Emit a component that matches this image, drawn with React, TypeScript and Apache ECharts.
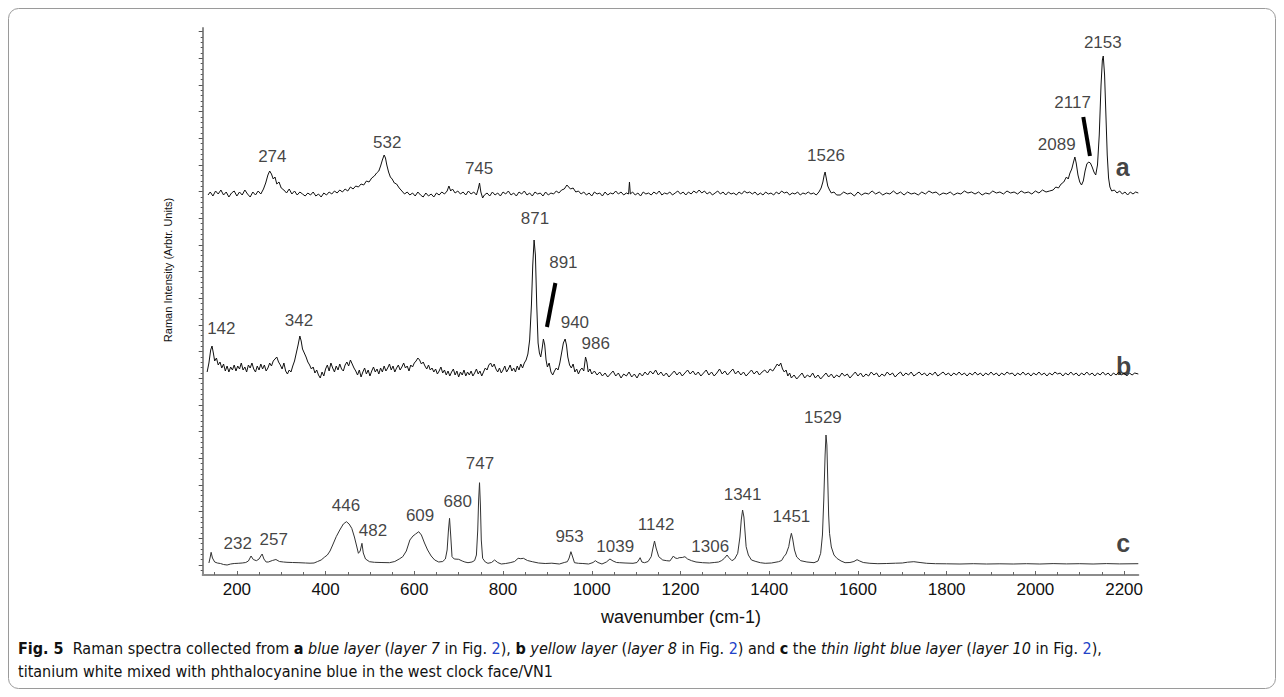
import React, { useEffect, useRef } from "react";
import * as echarts from "echarts";

const FONT = "'Liberation Sans', Arial, Helvetica, sans-serif";
const CAP_FONT = "'Liberation Sans Narrow', 'DejaVu Sans Condensed', 'Liberation Sans', sans-serif";

// x-axis labelled ticks (wavenumber, cm-1)
const xLabelTicks = [200, 400, 600, 800, 1000, 1200, 1400, 1600, 1800, 2000, 2200];
// y-axis major tick positions (arbitrary intensity units)
const yMajorTicks = [10, 36.67, 63.33, 90, 116.67, 143.33, 170, 196.67, 223.33, 250, 276.67, 303.33, 330, 356.67, 383.33, 410, 436.67, 463.33, 490, 516.67, 543.33];

// spectrum a (blue layer), offset
const spectrumA: [number, number][] = [
  [135,380],[140,383],[146,379],[152,384],[158,381],[164,385],[170,380],[176,383],[182,378],[188,382],[194,384],[200,379],[206,383],[212,380],[218,385],[224,381],[230,378],[236,383],[242,380],[248,384],[254,381],[260,386],[265,392],[270,400],[274,404],[278,401],[282,396],[286,398],[290,391],[295,393],[300,387],[306,385],[312,382],[318,386],[324,381],[330,384],[336,380],[342,383],[348,381],[354,379],[360,382],[366,380],[372,383],[378,379],[384,381],[390,378],[396,382],[402,380],[408,383],[414,381],[420,384],[426,382],[432,385],[438,383],[444,386],[450,384],[456,388],[462,386],[468,389],[474,388],[480,391],[486,390],[492,394],[498,393],[504,397],[510,399],[515,402],[520,404],[524,409],[528,415],[532,420],[535,417],[538,410],[542,403],[546,398],[550,396],[555,392],[560,391],[566,387],[572,384],[578,381],[584,383],[590,380],[596,382],[602,379],[608,383],[614,380],[620,378],[626,382],[632,379],[638,381],[644,378],[650,382],[656,380],[662,383],[668,381],[674,384],[678,389],[682,384],[686,386],[692,382],[698,384],[704,381],[710,383],[716,380],[722,384],[728,381],[734,383],[740,380],[744,386],[747,392],[750,383],[754,377],[758,380],[764,382],[770,379],[776,383],[782,380],[788,382],[794,379],[800,383],[806,381],[812,384],[818,380],[824,382],[830,379],[836,383],[842,381],[848,384],[854,380],[860,382],[866,379],[872,383],[878,381],[884,382],[890,379],[896,383],[902,380],[908,382],[914,381],[920,384],[926,382],[932,385],[938,386],[944,390],[948,388],[952,386],[958,387],[964,383],[970,384],[976,381],[982,383],[988,380],[994,382],[1000,379],[1006,383],[1012,381],[1018,382],[1024,379],[1030,383],[1036,380],[1042,382],[1048,381],[1054,384],[1060,381],[1066,383],[1072,380],[1078,382],[1083,381],[1085,393],[1087,381],[1092,383],[1098,380],[1104,382],[1110,379],[1116,383],[1122,381],[1128,382],[1134,380],[1140,383],[1146,381],[1152,384],[1158,380],[1164,382],[1170,381],[1176,383],[1182,380],[1188,382],[1194,384],[1200,381],[1206,383],[1212,380],[1218,383],[1224,381],[1230,384],[1236,382],[1242,385],[1248,382],[1254,384],[1260,381],[1266,383],[1272,380],[1278,382],[1284,384],[1290,381],[1296,383],[1302,380],[1308,383],[1314,381],[1320,382],[1326,380],[1332,383],[1338,381],[1344,384],[1350,382],[1356,383],[1362,381],[1368,383],[1374,380],[1380,382],[1386,380],[1392,383],[1398,381],[1404,382],[1410,380],[1416,383],[1422,381],[1428,384],[1434,382],[1440,383],[1446,380],[1452,382],[1458,381],[1464,383],[1470,380],[1476,382],[1482,381],[1488,383],[1494,381],[1500,382],[1506,380],[1512,383],[1517,387],[1521,393],[1524,400],[1526,403],[1529,396],[1532,389],[1536,385],[1540,382],[1546,383],[1552,380],[1560,380],[1568,383],[1576,381],[1584,382],[1592,379],[1600,383],[1608,380],[1616,382],[1624,381],[1632,384],[1640,381],[1648,383],[1656,380],[1664,382],[1672,381],[1680,384],[1688,381],[1696,383],[1704,380],[1712,383],[1720,381],[1728,382],[1736,380],[1744,383],[1752,381],[1760,384],[1768,382],[1776,383],[1784,380],[1792,382],[1800,381],[1808,383],[1816,380],[1824,382],[1832,381],[1840,384],[1848,382],[1856,383],[1864,381],[1872,383],[1880,380],[1888,382],[1896,381],[1904,384],[1912,382],[1920,383],[1928,381],[1936,384],[1944,382],[1952,383],[1960,381],[1968,384],[1976,382],[1984,383],[1992,381],[2000,384],[2008,382],[2016,385],[2024,383],[2032,384],[2040,385],[2046,388],[2052,387],[2058,391],[2064,393],[2070,398],[2074,396],[2078,402],[2082,406],[2086,413],[2089,418],[2092,412],[2096,400],[2100,393],[2104,390],[2108,394],[2112,404],[2116,411],[2120,413],[2124,412],[2128,408],[2132,403],[2136,400],[2140,410],[2144,440],[2148,490],[2151,515],[2153,519],[2156,500],[2159,460],[2162,420],[2165,397],[2168,388],[2172,384],[2178,385],[2184,382],[2190,384],[2196,381],[2202,383],[2208,380],[2214,383],[2220,381],[2226,383],[2232,382]
];

// spectrum b (yellow layer), offset
const spectrumB: [number, number][] = [
  [133,203],[137,212],[141,225],[144,229],[147,222],[150,214],[154,217],[158,210],[162,213],[166,207],[170,211],[174,204],[178,209],[182,203],[186,208],[190,205],[194,210],[198,204],[202,209],[206,206],[210,212],[214,205],[218,208],[222,203],[226,210],[230,207],[234,212],[238,206],[242,203],[246,209],[250,205],[254,211],[258,206],[262,210],[266,204],[270,207],[274,212],[278,209],[282,214],[286,216],[290,218],[294,213],[298,210],[302,206],[306,212],[310,204],[314,201],[318,205],[322,203],[326,209],[330,214],[334,222],[338,230],[342,239],[345,234],[348,226],[352,222],[356,218],[360,213],[364,210],[368,206],[372,208],[376,202],[380,205],[384,200],[388,197],[392,203],[396,199],[400,206],[404,210],[408,204],[412,212],[416,207],[420,203],[424,209],[428,205],[432,211],[436,206],[440,204],[444,210],[448,213],[452,209],[456,215],[460,211],[464,207],[468,204],[472,200],[476,205],[480,198],[484,203],[488,207],[492,201],[496,205],[500,199],[504,204],[508,208],[512,203],[516,206],[520,201],[524,207],[528,203],[532,209],[536,204],[540,207],[544,211],[548,205],[552,209],[556,203],[560,207],[564,210],[568,205],[572,208],[576,212],[580,207],[584,209],[588,204],[592,210],[596,208],[600,212],[604,214],[608,217],[612,215],[616,211],[620,213],[624,209],[628,206],[632,210],[636,205],[640,207],[644,203],[648,206],[652,201],[656,204],[660,208],[664,202],[668,205],[672,200],[676,204],[680,199],[684,203],[688,206],[692,200],[696,204],[700,198],[704,203],[708,200],[712,205],[716,199],[720,203],[724,200],[728,204],[732,199],[736,202],[740,206],[744,201],[748,204],[752,199],[756,203],[760,207],[764,205],[768,210],[772,212],[776,208],[780,211],[784,206],[788,203],[792,207],[796,202],[800,205],[804,209],[808,203],[812,206],[816,210],[820,204],[824,207],[828,203],[832,209],[836,205],[840,211],[844,207],[848,212],[852,215],[856,221],[860,235],[864,270],[867,310],[870,335],[873,320],[876,270],[879,232],[882,222],[885,218],[888,226],[891,236],[894,230],[897,215],[900,208],[904,212],[908,203],[912,200],[916,204],[920,207],[924,205],[928,212],[932,222],[936,232],[940,236],[943,230],[946,218],[950,210],[954,207],[958,211],[962,203],[966,206],[970,201],[974,205],[978,207],[982,204],[986,218],[989,213],[992,203],[996,206],[1000,201],[1006,204],[1012,200],[1018,203],[1024,199],[1030,202],[1036,198],[1042,201],[1048,204],[1054,199],[1060,202],[1066,197],[1072,201],[1078,199],[1084,203],[1090,198],[1096,201],[1102,197],[1108,202],[1114,199],[1120,203],[1126,200],[1132,204],[1138,201],[1144,205],[1150,200],[1156,203],[1162,199],[1168,202],[1174,198],[1180,201],[1186,204],[1192,200],[1198,203],[1204,199],[1210,202],[1216,205],[1222,201],[1228,204],[1234,200],[1240,203],[1246,199],[1252,202],[1258,205],[1264,200],[1270,203],[1276,199],[1282,202],[1288,206],[1294,201],[1300,204],[1306,200],[1312,203],[1318,206],[1324,201],[1330,204],[1336,200],[1342,203],[1348,199],[1354,202],[1360,205],[1366,201],[1372,204],[1378,200],[1384,203],[1390,205],[1396,202],[1402,206],[1408,204],[1414,208],[1418,211],[1422,209],[1426,212],[1430,206],[1434,203],[1438,205],[1442,199],[1446,202],[1450,197],[1456,200],[1462,196],[1468,199],[1474,202],[1480,197],[1486,200],[1492,198],[1498,202],[1504,197],[1510,200],[1516,196],[1522,199],[1528,202],[1534,198],[1540,201],[1546,197],[1552,200],[1558,198],[1564,202],[1570,199],[1576,201],[1582,197],[1588,200],[1594,203],[1600,199],[1606,202],[1612,198],[1618,201],[1624,199],[1630,203],[1636,200],[1642,202],[1648,198],[1654,201],[1660,199],[1666,203],[1672,200],[1678,202],[1684,198],[1690,201],[1696,203],[1702,199],[1708,202],[1714,200],[1720,203],[1726,199],[1732,201],[1738,203],[1744,200],[1750,202],[1756,199],[1762,202],[1768,200],[1774,203],[1780,199],[1786,201],[1792,203],[1798,200],[1804,202],[1810,199],[1816,202],[1822,200],[1828,203],[1834,200],[1840,202],[1846,199],[1852,202],[1858,200],[1864,203],[1870,200],[1876,202],[1882,199],[1888,202],[1894,200],[1900,203],[1906,200],[1912,202],[1918,199],[1924,202],[1930,200],[1936,203],[1942,201],[1948,202],[1954,199],[1960,202],[1966,200],[1972,203],[1978,200],[1984,202],[1990,199],[1996,202],[2002,200],[2008,203],[2014,200],[2020,202],[2026,199],[2032,202],[2038,200],[2044,203],[2050,201],[2056,202],[2062,199],[2068,202],[2074,200],[2080,203],[2086,200],[2092,202],[2098,199],[2104,202],[2110,200],[2116,203],[2122,200],[2128,202],[2134,199],[2140,202],[2146,200],[2152,203],[2158,200],[2164,202],[2170,199],[2176,202],[2182,200],[2188,203],[2194,200],[2200,202],[2206,199],[2212,202],[2218,200],[2224,202],[2232,201]
];

// spectrum c (thin light blue layer)
const spectrumC: [number, number][] = [
  [137,12],[140,18],[142,22.7],[145,17],[150,13],[156,12],[163,11.5],[170,10.5],[178,10],[186,11],[194,11.5],[203,11.7],[212,12],[220,12.5],[226,14],[232,19],[237,15.5],[244,14.3],[250,16],[254,19],[257,21],[261,16],[266,13],[271,13],[280,14.5],[288,15.5],[296,13.5],[305,13],[313,12.7],[325,12.5],[340,12.3],[355,12],[365,11.8],[374,12],[382,13.5],[390,15],[398,18],[404,20],[410,24],[416,30],[424,38.3],[432,45],[440,51],[447,53.3],[453,51],[459,46.7],[465,38],[470,29],[474,21.7],[478,24],[482,31.7],[485,22],[490,16],[499,13.3],[510,12.7],[525,12.5],[544,12.3],[556,13.5],[566,16],[574,18.3],[582,24],[590,35],[597,39],[603,41],[610,43.3],[616,40],[623,32],[630,25],[638,19],[646,15],[655,13],[664,13.5],[670,16],[674,25],[677,45],[679.4,56.7],[682,40],[685,18.3],[690,16],[700,15.7],[708,14],[714,13],[721,12.3],[730,13],[736,14.5],[740,20],[743,45],[745,75],[747,92.3],[749,70],[751,35],[754,16.7],[760,13],[766,11.7],[774,12.5],[781,15],[788,12.5],[796,11],[806,11.5],[816,12.3],[826,13.5],[834,16.7],[840,16.3],[846,16.7],[855,14.5],[866,13.3],[880,12],[895,11.5],[910,11.8],[927,11],[938,12.5],[945,13.3],[949,17],[953,23.3],[957,18],[961,12.3],[970,11.7],[980,11.5],[993,11],[1003,12.5],[1008,14.3],[1014,12.5],[1023,11],[1033,13],[1041,16],[1048,14],[1056,12.5],[1063,12.3],[1075,12],[1093,11.7],[1102,12.5],[1106,15],[1109,17.3],[1113,13],[1119,12.3],[1127,13.5],[1134,18.3],[1138,27],[1141.5,34],[1145,27],[1151,18.3],[1160,15],[1169,14.3],[1176,14],[1181,17],[1184,19],[1188,17],[1193,16.5],[1197,17.3],[1204,17.5],[1210,18.3],[1216,16],[1225,14.3],[1235,13],[1250,12.3],[1265,12],[1276,12.5],[1286,13],[1293,14.5],[1299,16.7],[1305,20],[1309,17.5],[1316,14.3],[1322,16],[1329,21.7],[1334,38],[1337,55],[1340,65],[1343,58],[1346,40],[1348,28.3],[1353,20],[1360,15],[1370,13.5],[1380,12.3],[1391,11.7],[1405,12],[1421,13.3],[1428,14.5],[1433,18.3],[1438,21],[1444,28.3],[1447,36],[1450,41.7],[1453,36],[1457,25],[1462,18],[1471,14.3],[1485,13],[1501,12.3],[1510,14],[1516,21.7],[1520,40],[1523,75],[1526,120],[1528,140],[1530,130],[1532,95],[1534,60],[1536,41.7],[1540,28],[1546,20],[1553,16.5],[1562,14],[1571,12.3],[1582,12.5],[1591,13.5],[1598,15.3],[1604,14],[1612,12.5],[1627,11.7],[1645,11.3],[1665,11.5],[1685,11.8],[1700,12],[1712,12.8],[1726,13.3],[1740,12.5],[1755,11.7],[1775,11.3],[1800,11.2],[1830,11],[1860,11.3],[1890,11],[1920,11.2],[1950,11],[1980,11.3],[2010,11],[2040,11.4],[2070,11.1],[2100,11.3],[2130,11],[2160,11.4],[2190,11.1],[2232,11.3]
];

// peak annotations: [wavenumber, intensity, text]
const peakLabels: [number, number, string][] = [
  [280, 419, "274"], [539, 433, "532"], [746, 407, "745"], [1528, 420, "1526"],
  [2048, 431, "2089"], [2084, 473, "2117"], [2152, 533, "2153"],
  [165, 247, "142"], [340, 255, "342"], [872, 357, "871"], [936, 313, "891"],
  [962, 253, "940"], [1009, 232, "986"],
  [202, 32, "232"], [283, 36, "257"], [446, 70, "446"], [507, 45, "482"],
  [613, 60, "609"], [698, 74, "680"], [748, 112, "747"], [950, 39, "953"],
  [1053, 29, "1039"], [1145, 51, "1142"], [1267, 29, "1306"], [1340, 81, "1341"],
  [1450, 59, "1451"], [1521, 158, "1529"]
];
const seriesLetters: [number, number, string][] = [
  [2197, 408, "a"], [2199, 209, "b"], [2198, 32, "c"]
];
const pointerA: [number, number][] = [[2108, 458], [2123, 419]];
const pointerB: [number, number][] = [[918, 292], [899, 248]];

export default function App() {
  const ref = useRef<HTMLDivElement>(null);
  useEffect(() => {
    if (!ref.current) return;
    const chart = echarts.init(ref.current, null, { renderer: "svg" });
    const xMinor: number[] = [];
    for (let v = 150; v <= 2200; v += 50) if (xLabelTicks.indexOf(v) < 0) xMinor.push(v);
    const yMinor: number[] = [];
    for (let v = 10 - 16 / 3; v < 547; v += 16 / 3) {
      if (!yMajorTicks.some((m) => Math.abs(m - v) < 0.5)) yMinor.push(v);
    }
    const XMIN = 123, XMAX = 2232, YMIN = 0, YMAX = 547;
    const lineSeries = (data: [number, number][], color: string, width: number) => ({
      type: "line", data, showSymbol: false, symbol: "none", silent: true,
      lineStyle: { color, width }, clip: false,
    });
    const labelSeries = (data: [number, number, string][], size: number, weight: string) => ({
      type: "scatter", data, symbolSize: 1, silent: true,
      itemStyle: { color: "rgba(0,0,0,0)" },
      label: {
        show: true, position: "inside", formatter: (p: any) => p.value[2],
        fontSize: size, fontWeight: weight, color: "#111", fontFamily: FONT,
      },
    });
    const caption1 =
      "{fb|Fig. 5}  Raman spectra collected from {b|a} {i|blue layer} ({i|layer 7} in Fig. {l|2}), {b|b} {i|yellow layer} ({i|layer 8} in Fig. {l|2}) and {b|c} the {i|thin light blue layer} ({i|layer 10} in Fig. {l|2}),";
    const caption2 = "titanium white mixed with phthalocyanine blue in the west clock face/VN1";
    const capRich = {
      fb: { fontFamily: CAP_FONT, fontSize: 16, fontWeight: "bold", fill: "#111" },
      b: { fontFamily: CAP_FONT, fontSize: 16, fontWeight: "bold", fill: "#111" },
      i: { fontFamily: CAP_FONT, fontSize: 16, fontStyle: "italic", fill: "#111" },
      l: { fontFamily: CAP_FONT, fontSize: 16, fill: "#2343c8" },
    };
    chart.setOption({
      animation: false,
      grid: { left: 194.7, right: 137.7, top: 20, bottom: 114 },
      xAxis: [
        {
          type: "value", min: XMIN, max: XMAX, position: "bottom",
          axisLine: { show: true, onZero: false, lineStyle: { color: "#8c8c8c", width: 2 } },
          axisTick: { show: true, inside: true, length: 4, customValues: xLabelTicks, lineStyle: { color: "#666" } },
          axisLabel: { customValues: xLabelTicks, formatter: (v: number) => String(v), fontSize: 17, color: "#111", margin: 6, fontFamily: FONT },
          splitLine: { show: false },
        },
        {
          type: "value", min: XMIN, max: XMAX, position: "bottom",
          axisLine: { show: false, onZero: false },
          axisTick: { show: true, inside: true, length: 3, customValues: xMinor, lineStyle: { color: "#666" } },
          axisLabel: { show: false },
          splitLine: { show: false },
        },
      ],
      yAxis: [
        {
          type: "value", min: YMIN, max: YMAX, position: "left",
          axisLine: { show: true, onZero: false, lineStyle: { color: "#8c8c8c", width: 2 } },
          axisTick: { show: true, length: 4, customValues: yMajorTicks, lineStyle: { color: "#555" } },
          axisLabel: { show: false },
          splitLine: { show: false },
        },
        {
          type: "value", min: YMIN, max: YMAX, position: "left",
          axisLine: { show: false, onZero: false },
          axisTick: { show: true, length: 2, customValues: yMinor, lineStyle: { color: "#555" } },
          axisLabel: { show: false },
          splitLine: { show: false },
        },
      ],
      series: [
        lineSeries(spectrumA, "#111", 1),
        lineSeries(spectrumB, "#111", 1),
        lineSeries(spectrumC, "#333", 1),
        lineSeries(pointerA, "#000", 4),
        lineSeries(pointerB, "#000", 4),
        labelSeries(peakLabels, 17, "normal"),
        labelSeries(seriesLetters, 25, "bold"),
      ],
      graphic: [
        {
          type: "rect", silent: true, z: -10,
          shape: { x: 0.5, y: 0.5, width: 1267, height: 680, r: 10 },
          style: { fill: "none", stroke: "#9a9a9a", lineWidth: 1 },
        },
        {
          type: "text", x: 160, y: 262, rotation: Math.PI / 2, silent: true,
          style: { text: "Raman Intensity (Arbtr. Units)", fontSize: 11, fontFamily: FONT, fill: "#111", align: "center", verticalAlign: "middle" },
        },
        {
          type: "text", x: 673, y: 609, silent: true,
          style: { text: "wavenumber (cm-1)", fontSize: 18, fontFamily: FONT, fill: "#111", align: "center", verticalAlign: "middle" },
        },
        {
          type: "text", x: 10, y: 640, silent: true,
          style: { text: caption1, fontSize: 16, fontFamily: CAP_FONT, fill: "#111", align: "left", verticalAlign: "middle", rich: capRich },
        },
        {
          type: "text", x: 10, y: 663, silent: true,
          style: { text: caption2, fontSize: 16, fontFamily: CAP_FONT, fill: "#111", align: "left", verticalAlign: "middle" },
        },
      ],
    });
    return () => chart.dispose();
  }, []);
  return <div ref={ref} style={{ width: 1268, height: 681 }} />;
}
